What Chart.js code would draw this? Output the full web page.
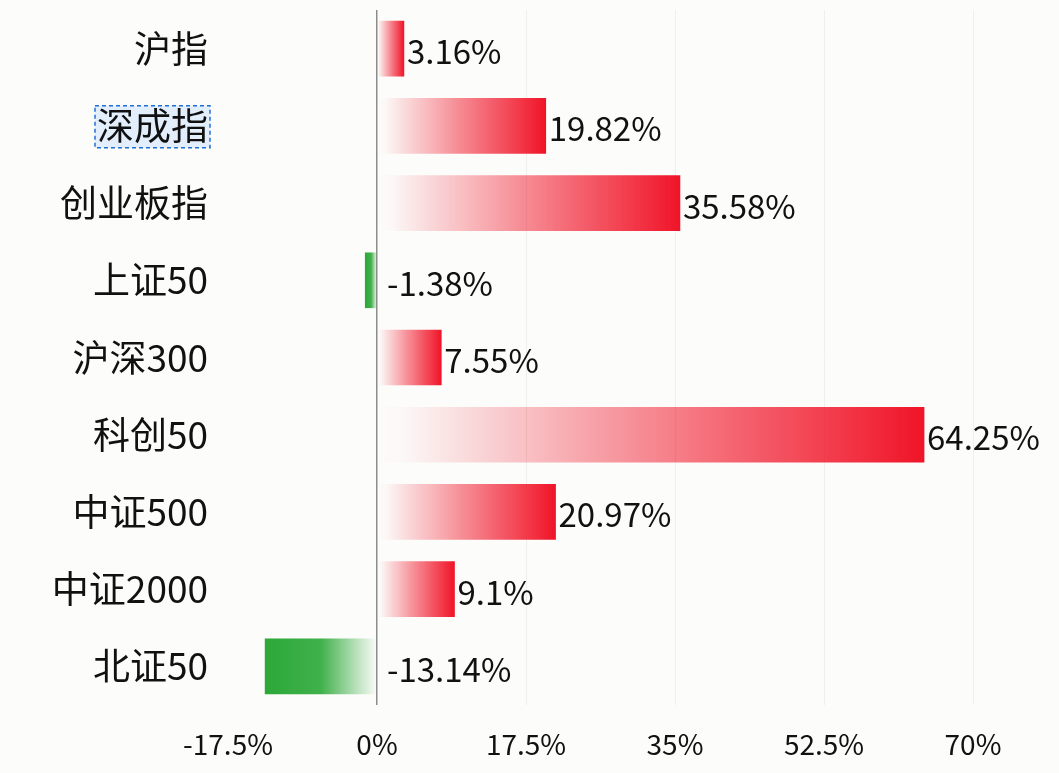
<!DOCTYPE html>
<html>
<head>
<meta charset="utf-8">
<script src="https://cdn.jsdelivr.net/npm/chart.js@4/dist/chart.umd.min.js"></script>
<style>
  html, body { margin: 0; padding: 0; background: #fcfcfa; }
  #wrap { width: 1059px; height: 773px; position: relative; }
</style>
</head>
<body>
<div id="wrap"><canvas id="barChart"></canvas></div>
<script>
// ==================== DATA ====================
const INDEX_NAMES = ['沪指', '深成指', '创业板指', '上证50', '沪深300', '科创50', '中证500', '中证2000', '北证50'];
const CHANGE_PCT = [3.16, 19.82, 35.58, -1.38, 7.55, 64.25, 20.97, 9.1, -13.14];
const X_MIN = -17.5;
const X_MAX = 70;
const X_STEP = 17.5;
const FOCUSED_LABEL = '深成指';

const FONT = '"Noto Sans CJK SC", "Noto Sans", sans-serif';
const TEXT = '#111111';

function barFill(ctx) {
  const chart = ctx.chart;
  const v = ctx.raw;
  const up = v >= 0;
  const rgb = up ? '240,20,40' : '44,168,56';
  if (!chart.chartArea) return 'rgb(' + rgb + ')';
  const x = chart.scales.x;
  const x0 = x.getPixelForValue(0);
  const x1 = x.getPixelForValue(v);
  const g = chart.ctx.createLinearGradient(x0, 0, x1, 0);
  if (up) {
    g.addColorStop(0, 'rgba(' + rgb + ',0)');
    g.addColorStop(0.05, 'rgba(' + rgb + ',0.02)');
    g.addColorStop(0.5, 'rgba(' + rgb + ',0.5)');
    g.addColorStop(1, 'rgba(' + rgb + ',1)');
  } else {
    g.addColorStop(0, 'rgba(' + rgb + ',0)');
    g.addColorStop(0.2, 'rgba(' + rgb + ',0.35)');
    g.addColorStop(0.5, 'rgba(' + rgb + ',0.9)');
    g.addColorStop(1, 'rgba(' + rgb + ',1)');
  }
  return g;
}

// value text next to each bar
const valueLabels = {
  id: 'valueLabels',
  afterDatasetsDraw(chart) {
    const { ctx } = chart;
    const zero = chart.scales.x.getPixelForValue(0);
    ctx.save();
    ctx.font = '33px ' + FONT;
    ctx.fillStyle = TEXT;
    ctx.textAlign = 'left';
    ctx.textBaseline = 'middle';
    chart.getDatasetMeta(0).data.forEach((bar, i) => {
      const v = CHANGE_PCT[i];
      const tx = v >= 0 ? bar.x + 3 : zero + 10;
      ctx.fillText(v + '%', tx, bar.y + 3);
    });
    ctx.restore();
  }
};

// dashed selection box around one category label
function focusRect(chart) {
  const y = chart.scales.y;
  const i = INDEX_NAMES.indexOf(FOCUSED_LABEL);
  if (i < 0) return null;
  chart.ctx.save();
  chart.ctx.font = '37px ' + FONT;
  const w = chart.ctx.measureText(FOCUSED_LABEL).width;
  chart.ctx.restore();
  const right = y.right - 20 + 1;
  const cy = y.getPixelForTick(i) + 1;
  return { x: right - w - 3, y: cy - 21, w: w + 4, h: 42 };
}
const focusBox = {
  id: 'focusBox',
  beforeDatasetsDraw(chart) {
    const r = focusRect(chart);
    if (!r) return;
    const { ctx } = chart;
    ctx.save();
    ctx.globalCompositeOperation = 'multiply';
    ctx.fillStyle = 'rgba(226,238,252,1)';
    ctx.fillRect(r.x, r.y, r.w, r.h);
    ctx.restore();
  },
  afterDraw(chart) {
    const r = focusRect(chart);
    if (!r) return;
    const { ctx } = chart;
    ctx.save();
    ctx.strokeStyle = '#1f6fd6';
    ctx.lineWidth = 1.5;
    ctx.setLineDash([4, 3]);
    ctx.strokeRect(r.x, r.y, r.w, r.h);
    ctx.restore();
  }
};

new Chart(document.getElementById('barChart'), {
  type: 'bar',
  data: {
    labels: INDEX_NAMES,
    datasets: [{
      data: CHANGE_PCT,
      backgroundColor: barFill,
      borderWidth: 0,
      barThickness: 55
    }]
  },
  options: {
    indexAxis: 'y',
    responsive: true,
    maintainAspectRatio: false,
    animation: false,
    devicePixelRatio: 1,
    layout: { padding: { top: 10, right: 86, bottom: 0, left: 0 } },
    plugins: {
      legend: { display: false },
      tooltip: { enabled: false }
    },
    scales: {
      x: {
        min: X_MIN,
        max: X_MAX,
        border: { display: false },
        grid: {
          drawTicks: false,
          color: (c) => c.tick.value === 0 ? '#8c8c8c' : (c.tick.value === X_MIN ? 'rgba(0,0,0,0)' : '#efefec'),
          lineWidth: (c) => c.tick.value === 0 ? 1.5 : 1
        },
        ticks: {
          stepSize: X_STEP,
          padding: 23,
          color: TEXT,
          font: { family: FONT, size: 28 },
          maxRotation: 0,
          callback: (v) => v + '%'
        },
        afterFit: (s) => { s.height = 68; s.paddingLeft = 0; s.paddingRight = 0; }
      },
      y: {
        border: { display: false },
        grid: { display: false, drawTicks: false },
        ticks: {
          padding: 20,
          color: TEXT,
          font: { family: FONT, size: 37 }
        },
        afterFit: (s) => { s.width = 228; s.paddingTop = 0; s.paddingBottom = 0; }
      }
    }
  },
  plugins: [valueLabels, focusBox]
});
</script>
</body>
</html>
